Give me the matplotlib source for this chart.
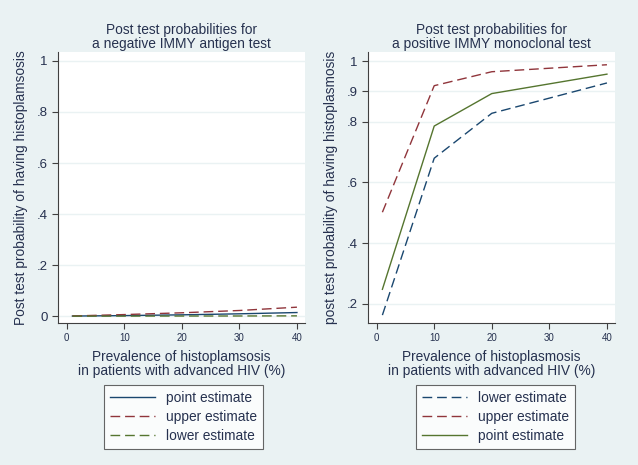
import matplotlib
matplotlib.use("Agg")
import matplotlib.pyplot as plt

# data
prev_neg = [1, 10, 20, 30, 40]
neg_point = [0.0002, 0.002, 0.005, 0.009, 0.014]
neg_upper = [0.0005, 0.006, 0.013, 0.022, 0.035]
neg_lower = [0.0, 0.0001, 0.0003, 0.0005, 0.001]

prev_pos = [1, 10, 20, 40]
pos_lower = [0.163, 0.68, 0.828, 0.928]
pos_upper = [0.502, 0.919, 0.965, 0.988]
pos_point = [0.248, 0.786, 0.893, 0.957]

xticks = [0, 10, 20, 30, 40]
neg_yticks = [0, 0.2, 0.4, 0.6, 0.8, 1.0]
neg_ylabels = ["0", ".2", ".4", ".6", ".8", "1"]
pos_yticks = [0.2, 0.4, 0.6, 0.8, 0.9, 1.0]
pos_ylabels = [".2", ".4", ".6", ".8", ".9", "1"]

navy = "#1a476f"
maroon = "#90353b"
green = "#55752f"
bg = "#eaf2f3"
txt = "#26314f"
dash = (0, (7, 3.5))
fs = 9.9

plt.rcParams['font.family'] = ['Liberation Sans', 'DejaVu Sans']

fig = plt.figure(figsize=(6.38, 4.65), dpi=100)
fig.patch.set_facecolor(bg)

ax1 = fig.add_axes([58/638, 142/465, 247/638, 271/465])
ax2 = fig.add_axes([368/638, 142/465, 247/638, 271/465])


def style(ax, yticks, ylabels, ylim, title, xlabel, ylabel):
    ax.set_facecolor("white")
    for s in ["top", "right"]:
        ax.spines[s].set_visible(False)
    for s in ["left", "bottom"]:
        ax.spines[s].set_color("#404040")
        ax.spines[s].set_linewidth(0.8)
    ax.set_xlim(-1.5, 41.4)
    ax.set_ylim(*ylim)
    ax.set_xticks(xticks)
    ax.set_xticklabels([str(t) for t in xticks], fontsize=7, color=txt)
    ax.set_yticks(yticks)
    ax.set_yticklabels(ylabels, fontsize=9.5, color=txt)
    ax.tick_params(direction="out", length=4, width=0.8, color="#404040")
    ax.grid(axis="y", color=bg, linewidth=1)
    ax.set_axisbelow(True)
    ax.set_title(title, fontsize=fs, color=txt, pad=3, linespacing=1.0)
    ax.set_xlabel(xlabel, fontsize=fs, color=txt, labelpad=5, linespacing=1.0)
    ax.set_ylabel(ylabel, fontsize=fs, color=txt, labelpad=6)


ax1.plot(prev_neg, neg_point, color=navy, lw=1.0, label="point estimate")
ax1.plot(prev_neg, neg_upper, color=maroon, lw=1.0, linestyle=dash, label="upper estimate")
ax1.plot(prev_neg, neg_lower, color=green, lw=1.0, linestyle=dash, label="lower estimate")
style(ax1, neg_yticks, neg_ylabels, (-0.027, 1.035),
      "Post test probabilities for\na negative IMMY antigen test",
      "Prevalence of histoplamsosis\nin patients with advanced HIV (%)",
      "Post test probability of having histoplamsosis")

ax2.plot(prev_pos, pos_lower, color=navy, lw=1.0, linestyle=dash, label="lower estimate")
ax2.plot(prev_pos, pos_upper, color=maroon, lw=1.0, linestyle=dash, label="upper estimate")
ax2.plot(prev_pos, pos_point, color=green, lw=1.0, label="point estimate")
style(ax2, pos_yticks, pos_ylabels, (0.137, 1.03),
      "Post test probabilities for\na positive IMMY monoclonal test",
      "Prevalence of histoplasmosis\nin patients with advanced HIV (%)",
      "post test probability of having histoplasmosis")

for ax, anchor in [(ax1, (104/638, 1 - 385/465)), (ax2, (416/638, 1 - 385/465))]:
    h, l = ax.get_legend_handles_labels()
    leg = fig.legend(h, l, loc="upper left", bbox_to_anchor=anchor,
                     fontsize=fs, frameon=True, fancybox=False,
                     handlelength=3.3, handletextpad=0.8, labelspacing=0.38,
                     borderpad=0.42, borderaxespad=0)
    leg.get_frame().set_edgecolor("#404040")
    leg.get_frame().set_linewidth(0.8)
    for t in leg.get_texts():
        t.set_color(txt)

fig.savefig("out.png", dpi=100, facecolor=bg)
